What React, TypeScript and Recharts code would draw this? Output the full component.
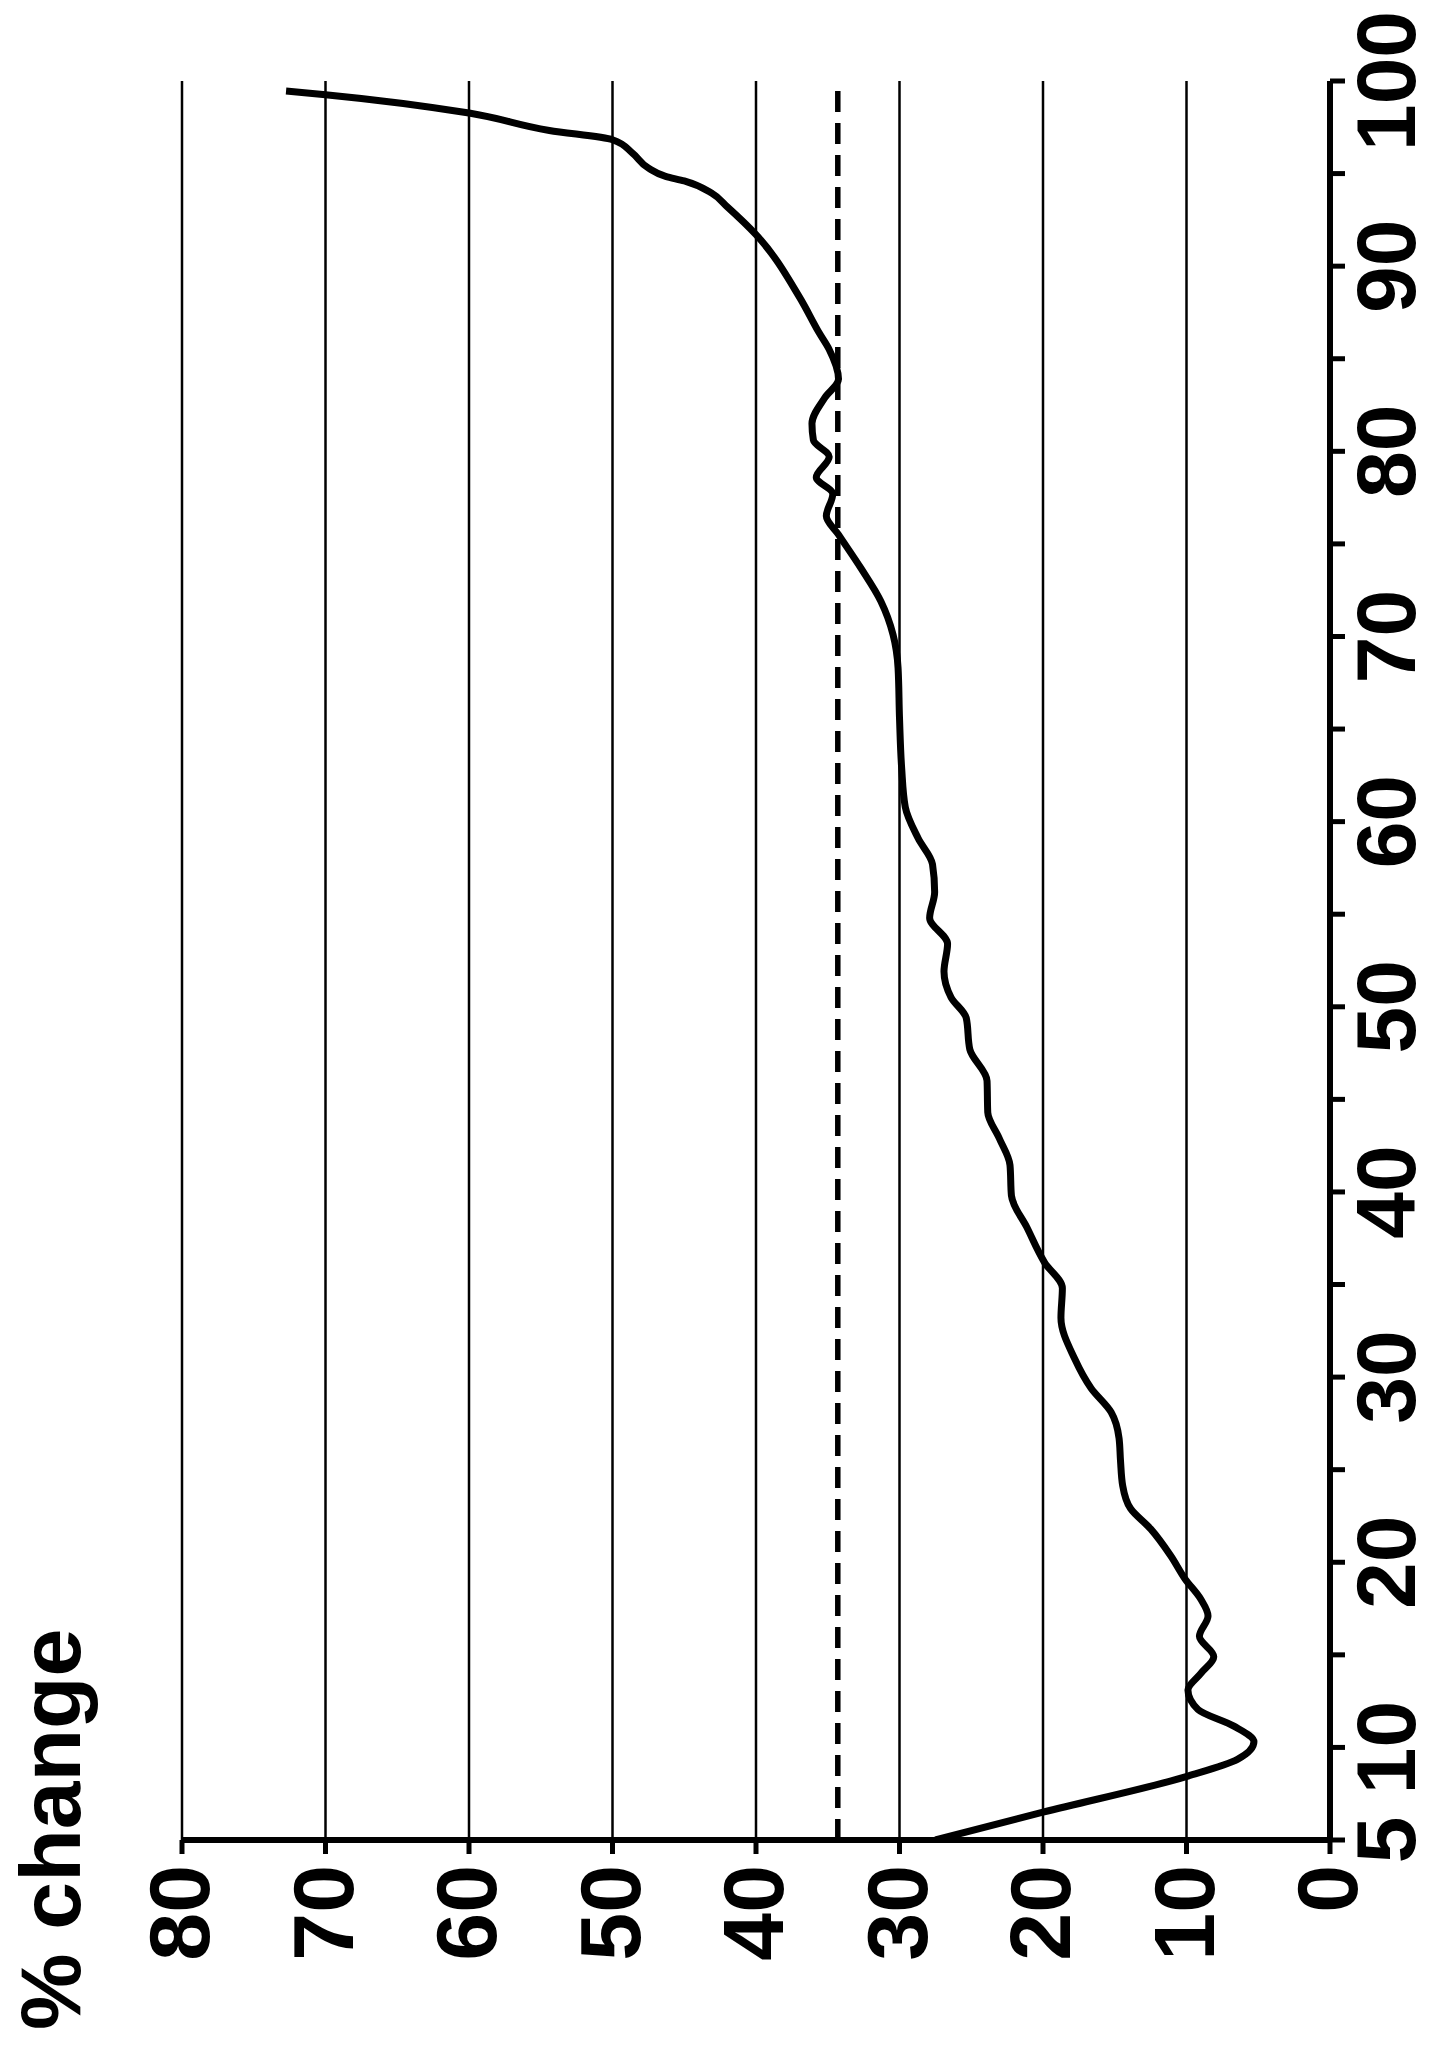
import React from 'react';
import { LineChart, Line, XAxis, YAxis, CartesianGrid, ReferenceLine } from 'recharts';

const xValues = [
  5.0, 6.5, 8.45, 9.35, 10.3, 11.15, 12.05, 13.1, 14.0, 14.9, 16.0, 17.1, 18.0, 19.1, 20.35,
  21.8, 22.9, 24.15, 25.5, 26.7, 28.1, 29.4, 31.0, 33.2, 34.8, 36.2, 38.05, 39.8, 41.45, 42.9,
  44.3, 46.0, 47.7, 49.4, 50.5, 51.9, 53.4, 54.8, 56.2, 57.7, 59.1, 60.8, 62.9, 65.6, 68.3,
  70.1, 71.9, 73.7, 75.5, 76.5, 77.7, 78.6, 79.7, 80.6, 81.5, 82.9, 83.9, 85.5, 86.4, 88.3,
  91.7, 93.2, 93.95, 94.6, 94.85, 95.3, 96.1, 96.83, 97.33, 98.27, 99.26, 99.46,
];
const changeValues = [
  27.5, 20.0, 9.9, 6.45, 5.3, 6.7, 9.2, 9.9, 9.0, 8.1, 9.1, 8.5, 9.0, 10.1, 11.1,
  12.5, 13.9, 14.45, 14.6, 14.7, 15.25, 16.65, 17.8, 18.75, 18.65, 19.9, 21.1, 22.2, 22.3, 23.05,
  23.85, 23.9, 25.1, 25.35, 26.4, 26.9, 26.65, 27.9, 27.55, 27.7, 28.7, 29.6, 29.85, 30.0, 30.1,
  30.45, 31.3, 32.7, 34.25, 35.1, 34.65, 35.8, 34.9, 36.0, 36.1, 35.2, 34.25, 34.9, 35.6, 36.95,
  40.0, 42.0, 43.1, 45.0, 46.3, 47.5, 48.6, 50.0, 54.4, 60.0, 70.0, 72.75,
];
const xTicks = [5, 10, 15, 20, 25, 30, 35, 40, 45, 50, 55, 60, 65, 70, 75, 80, 85, 90, 95, 100];
const xLabels = [5, 10, 20, 30, 40, 50, 60, 70, 80, 90, 100];
const yTicks = [0, 10, 20, 30, 40, 50, 60, 70, 80];
const meanChange = 34.3;

const data = xValues.map((x, i) => ({ x, y: changeValues[i] }));

const FONT = '"Liberation Sans", Arial, sans-serif';
const W = 2050;
const H = 1433;

// chart is drawn upright then turned a quarter left, like the source figure
const XTick = (props: any) => {
  const v = props.payload.value;
  if (!xLabels.includes(v)) return null;
  return (
    <text x={props.x} y={props.y + 55} textAnchor="middle" fontFamily={FONT}
      fontWeight="bold" fontSize={84} fill="#000">{v}</text>
  );
};

const YTick = (props: any) => (
  <text x={props.x} y={props.y + 27} textAnchor="end" fontFamily={FONT}
    fontWeight="bold" fontSize={86} fill="#000">{props.payload.value}</text>
);

export default function App() {
  return (
    <div style={{ position: 'absolute', left: 0, top: 0, width: 1433, height: 2050, overflow: 'hidden', background: '#fff' }}>
      <div style={{
        position: 'absolute', left: 0, top: 0, width: W, height: H,
        transformOrigin: '0 0', transform: 'translateY(2050px) rotate(-90deg)',
      }}>
        <LineChart width={W} height={H} data={data} margin={{ top: 182, right: 81, left: 0, bottom: 0 }}>
          <CartesianGrid vertical={false} stroke="#000" strokeWidth={2.5} />
          <XAxis dataKey="x" type="number" domain={[5, 100]} ticks={xTicks} interval={0}
            height={103} tickSize={15} tickMargin={15} allowDataOverflow
            axisLine={{ stroke: '#000', strokeWidth: 6 }} tickLine={{ stroke: '#000', strokeWidth: 5 }}
            tick={<XTick />} />
          <YAxis type="number" domain={[0, 80]} ticks={yTicks} interval={0}
            width={210} tickSize={14} tickMargin={11}
            axisLine={{ stroke: '#000', strokeWidth: 6 }} tickLine={{ stroke: '#000', strokeWidth: 5 }}
            tick={<YTick />} />
          <ReferenceLine y={meanChange} stroke="#000" strokeWidth={5.5} strokeDasharray="21 11" />
          <Line type="monotone" dataKey="y" stroke="#000" strokeWidth={7} dot={false}
            isAnimationActive={false} />
        </LineChart>
        <svg width={W} height={H} style={{ position: 'absolute', left: 0, top: 0, pointerEvents: 'none' }}>
          <text x={20} y={80} fontFamily={FONT} fontWeight="bold" fontSize={86} fill="#000">% change</text>
        </svg>
      </div>
    </div>
  );
}
